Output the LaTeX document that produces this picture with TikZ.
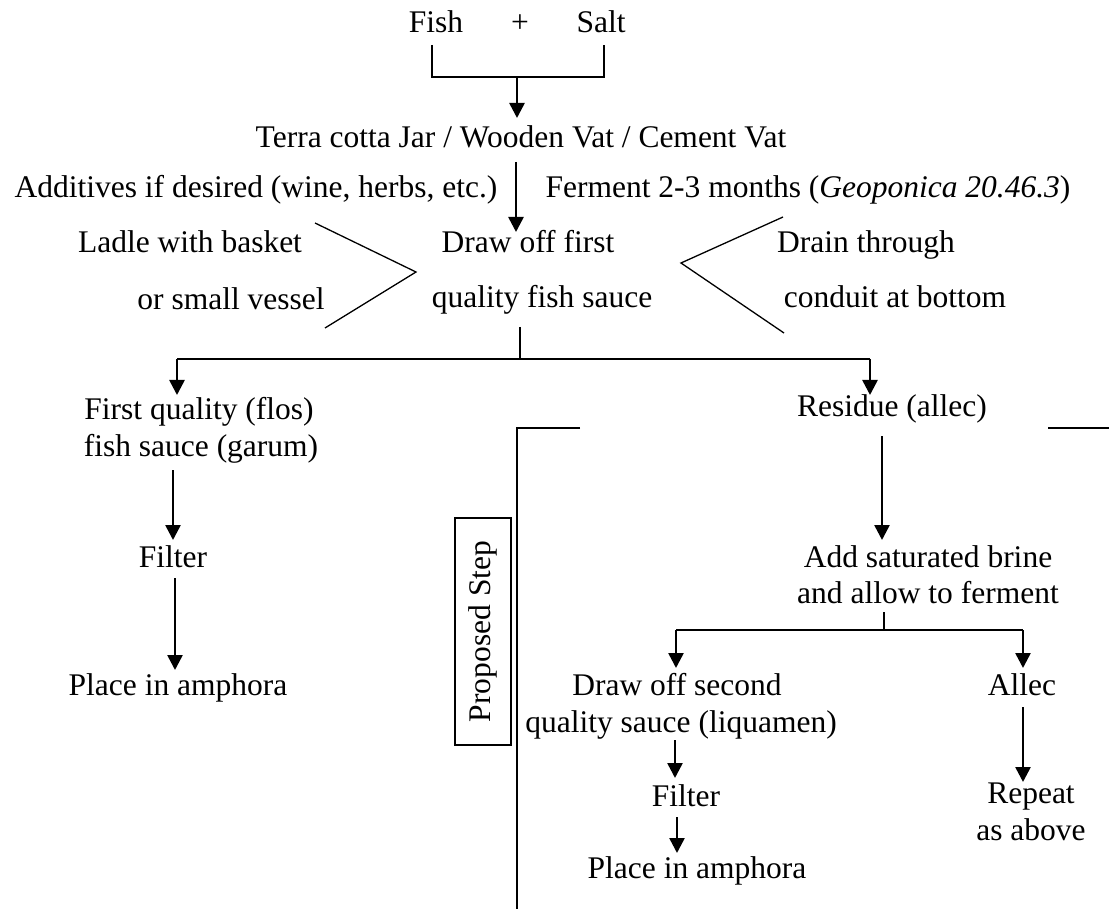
\documentclass[tikz,border=0pt]{standalone}
\usepackage{fontspec}
\setmainfont{Liberation Serif}
\usetikzlibrary{arrows.meta}
\begin{document}
\begin{tikzpicture}[x=1pt,y=-1pt,
  txt/.style={anchor=base,inner sep=0pt,font=\fontsize{31.5}{37}\selectfont},
  thinline/.style={line width=1.3pt},
  arr/.style={line width=2.6pt,-{Triangle[length=15pt,width=15pt]}},
  boxed/.style={draw,line width=1.3pt,minimum width=56pt,minimum height=227pt,inner sep=0pt}
]
\useasboundingbox (0,0) rectangle (1109,909);

% texts
\node[txt] (fish) at (436,33) {Fish};
\node[txt] (plus) at (520,33) {+};
\node[txt] (salt) at (601,33) {Salt};
\node[txt] (vat) at (521,148) {Terra cotta Jar / Wooden Vat / Cement Vat};
\node[txt] (add) at (256,198) {Additives if desired (wine, herbs, etc.)};
\node[txt] (ferm) at (808,198) {Ferment 2-3 months (\textit{Geoponica 20.46.3})};
\node[txt] (ladle) at (190,253) {Ladle with basket};
\node[txt] (vessel) at (231,310) {or small vessel};
\node[txt] (drawA) at (528,253) {Draw off first};
\node[txt] (drawB) at (542,308) {quality fish sauce};
\node[txt] (drain) at (866,253) {Drain through};
\node[txt] (conduit) at (895,308) {conduit at bottom};
\node[txt] (firstA) at (199,419) {First quality (flos)};
\node[txt] (firstB) at (201,456) {fish sauce (garum)};
\node[txt] (residue) at (892,417) {Residue (allec)};
\node[txt] (filterA) at (173,567) {Filter};
\node[txt] (placeA) at (178,695) {Place in amphora};
\node[txt] (brineA) at (928,567) {Add saturated brine};
\node[txt] (brineB) at (928,603) {and allow to ferment};
\node[txt] (secA) at (677,695) {Draw off second};
\node[txt] (secB) at (681,732) {quality sauce (liquamen)};
\node[txt] (filterB) at (686,806) {Filter};
\node[txt] (placeB) at (697,878) {Place in amphora};
\node[txt] (allec) at (1022,695) {Allec};
\node[txt] (repA) at (1031,803) {Repeat};
\node[txt] (repB) at (1031,840) {as above};
\node[boxed] (prop) at (483,631.5) {};
\node[txt,anchor=center,rotate=90] (proptxt) at (prop.center) {Proposed Step};

% coordinates
\coordinate (b1) at (432,45);
\coordinate (b2) at (432,77);
\coordinate (bm) at (517,77);
\coordinate (b3) at (604,77);
\coordinate (b4) at (604,45);
\coordinate (vatIn) at (517,118);
\coordinate (vatOut) at (516,162);
\coordinate (drawIn) at (516,232);
\coordinate (lc1) at (315,223);
\coordinate (lc2) at (416,272);
\coordinate (lc3) at (325,328);
\coordinate (rc1) at (783,217);
\coordinate (rc2) at (681,263);
\coordinate (rc3) at (784,333);
\coordinate (stem1) at (520,327);
\coordinate (br1) at (520,359);
\coordinate (brL) at (177,359);
\coordinate (brR) at (870,359);
\coordinate (firstIn) at (177,395);
\coordinate (resIn) at (870,395);
\coordinate (fA1) at (173,470);
\coordinate (fA2) at (173,540);
\coordinate (pA1) at (175,578);
\coordinate (pA2) at (175,670);
\coordinate (r1) at (882,436);
\coordinate (r2) at (882,540);
\coordinate (stem2) at (884,612);
\coordinate (br2) at (884,630);
\coordinate (br2L) at (676,630);
\coordinate (br2R) at (1023,630);
\coordinate (secIn) at (676,668);
\coordinate (allecIn) at (1023,668);
\coordinate (s1) at (675,740);
\coordinate (s2) at (675,778);
\coordinate (s3) at (677,817);
\coordinate (s4) at (677,853);
\coordinate (a1) at (1023,707);
\coordinate (a2) at (1023,782);
\coordinate (pl1) at (580,428);
\coordinate (pl2) at (517,428);
\coordinate (pl3) at (517,909);
\coordinate (pr1) at (1048,428);
\coordinate (pr2) at (1109,428);

% connectors
\draw[thinline] (b1) -- (b2) -- (b3) -- (b4);
\draw[arr] (bm) -- (vatIn);
\draw[arr] (vatOut) -- (drawIn);
\draw[thinline] (lc1) -- (lc2) -- (lc3);
\draw[thinline] (rc1) -- (rc2) -- (rc3);
\draw[thinline] (stem1) -- (br1);
\draw[thinline] (brL) -- (brR);
\draw[arr] (brL) -- (firstIn);
\draw[arr] (brR) -- (resIn);
\draw[arr] (fA1) -- (fA2);
\draw[arr] (pA1) -- (pA2);
\draw[arr] (r1) -- (r2);
\draw[thinline] (stem2) -- (br2);
\draw[thinline] (br2L) -- (br2R);
\draw[arr] (br2L) -- (secIn);
\draw[arr] (br2R) -- (allecIn);
\draw[arr] (s1) -- (s2);
\draw[arr] (s3) -- (s4);
\draw[arr] (a1) -- (a2);
\draw[thinline] (pl1) -- (pl2) -- (pl3);
\draw[thinline] (pr1) -- (pr2);
\end{tikzpicture}
\end{document}
